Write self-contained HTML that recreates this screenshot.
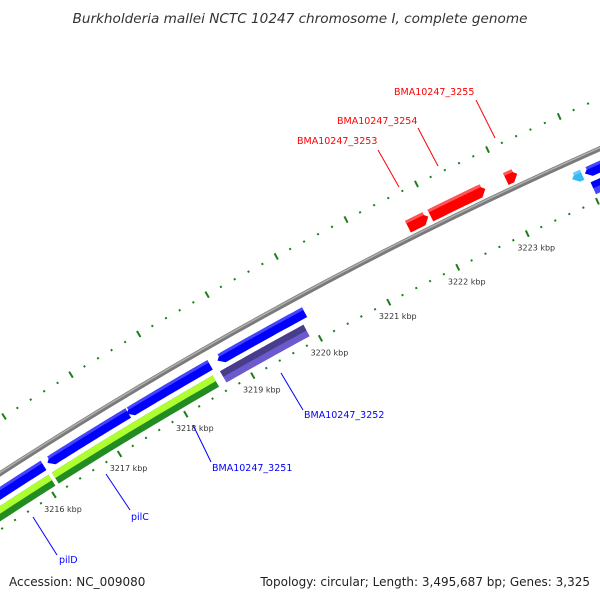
<!DOCTYPE html>
<html><head><meta charset="utf-8">
<style>
html,body{margin:0;padding:0;background:#fff;}
svg{display:block;font-family:"DejaVu Sans","Liberation Sans",sans-serif;}
</style></head>
<body>
<svg id="chart" width="600" height="600" viewBox="0 0 600 600">
<rect width="600" height="600" fill="#fff"/>
<g id="ticks"></g>
<g id="backbone"></g>
<g id="features"></g>
<g id="labels">
  <line x1="378" y1="150" x2="399" y2="187" stroke="#ff0000" stroke-width="1"/>
  <text x="297" y="144" font-size="9.5" fill="#ff0000">BMA10247_3253</text>
  <line x1="418" y1="128" x2="438" y2="166" stroke="#ff0000" stroke-width="1"/>
  <text x="337" y="124" font-size="9.5" fill="#ff0000">BMA10247_3254</text>
  <line x1="476" y1="100" x2="495" y2="138" stroke="#ff0000" stroke-width="1"/>
  <text x="394" y="95" font-size="9.5" fill="#ff0000">BMA10247_3255</text>
  <line x1="281" y1="373" x2="303" y2="410" stroke="#0000ff" stroke-width="1"/>
  <text x="304" y="418" font-size="9.5" fill="#0000ff">BMA10247_3252</text>
  <line x1="193" y1="425" x2="211" y2="462" stroke="#0000ff" stroke-width="1"/>
  <text x="212" y="471" font-size="9.5" fill="#0000ff">BMA10247_3251</text>
  <line x1="106" y1="474" x2="130" y2="510" stroke="#0000ff" stroke-width="1"/>
  <text x="131" y="520" font-size="9.5" fill="#0000ff">pilC</text>
  <line x1="33" y1="517" x2="57" y2="555" stroke="#0000ff" stroke-width="1"/>
  <text x="59" y="563" font-size="9.5" fill="#0000ff">pilD</text>
</g>
<text x="300" y="23" text-anchor="middle" font-size="13.6" font-style="italic" fill="#333">Burkholderia mallei NCTC 10247 chromosome I, complete genome</text>
<text x="9" y="586" font-size="12" fill="#222">Accession: NC_009080</text>
<text x="590" y="586" text-anchor="end" font-size="12" fill="#222">Topology: circular; Length: 3,495,687 bp; Genes: 3,325</text>
</svg>
<script>
const tickStartKbp = 3214;
const tickEndKbp = 3225;
const tickLabelKbp = [3216, 3217, 3218, 3219, 3220, 3221, 3222, 3223];
const featureNames = ["blue-a","pilD","pilC","BMA10247_3251","lightblue-small","blue-right-1","mixed-band2","BMA10247_3251-band2","BMA10247_3252","blue-right-2","BMA10247_3253","BMA10247_3254","BMA10247_3255"];
const featureStarts = [3214.6, 3216.15, 3217.35, 3218.70, 3223.82, 3224.00, 3214.6, 3216.13, 3218.66, 3224.02, 3221.66, 3221.98, 3223.05];
const featureEnds   = [3216.09, 3217.37, 3218.59, 3219.98, 3223.96, 3225.20, 3216.08, 3218.55, 3219.89, 3225.20, 3221.95, 3222.76, 3223.21];
const featureRings  = [1, 1, 1, 1, 1, 1, 2, 2, 2, 2, 0, 0, 0];
const featureArrows = ["none","left","left","left","left","left","none","none","none","none","right","right","right"];
const featureColors = ["#0000ff","#0000ff","#0000ff","#0000ff","#33bbee","#0000ff","#adff2f","#adff2f","#483d8b","#0000ff","#ff0000","#ff0000","#ff0000"];
const featureColors2= ["#4444ff","#4444ff","#4444ff","#4444ff","#66ccff","#4444ff","#228b22","#228b22","#6a5acd","#4444ff","#ff5555","#ff5555","#ff5555"];

const CX = 2366, CY = 4124, A0 = 237.5, K0 = 3216, DPK = 1.029;
const R_BACK = 4350, R_IN = 4303, R_OUT = 4396;
const RINGS = [[4355, 4368], [4328, 4339], [4310, 4323]];
const NS = "http://www.w3.org/2000/svg";
function pt(r, k) {
  const a = (A0 + (k - K0) * DPK) * Math.PI / 180;
  return [CX + r * Math.cos(a), CY + r * Math.sin(a)];
}
function arcPts(r, k1, k2) {
  const out = []; const n = 24;
  for (let i = 0; i <= n; i++) out.push(pt(r, k1 + (k2 - k1) * i / n));
  return out;
}
function poly(pts) { return pts.map(p => p[0].toFixed(2) + "," + p[1].toFixed(2)).join(" "); }

const bb = document.getElementById("backbone");
const bpts = arcPts(R_BACK, tickStartKbp, tickEndKbp);
const b1 = document.createElementNS(NS, "path");


b1.setAttribute("d", "M" + bpts.map(p => p[0].toFixed(2) + " " + p[1].toFixed(2)).join(" L"));
b1.setAttribute("stroke", "#7a7a7a"); b1.setAttribute("stroke-width", "5"); b1.setAttribute("fill", "none");
bb.appendChild(b1);
const hpts = arcPts(R_BACK + 1, tickStartKbp, tickEndKbp);
const b2 = document.createElementNS(NS, "path");


b2.setAttribute("d", "M" + hpts.map(p => p[0].toFixed(2) + " " + p[1].toFixed(2)).join(" L"));
b2.setAttribute("stroke", "#b0b0b0"); b2.setAttribute("stroke-width", "1.5"); b2.setAttribute("fill", "none");
bb.appendChild(b2);

const tg = document.getElementById("ticks");
for (let i = 0; i <= Math.round((tickEndKbp - tickStartKbp) * 5); i++) {
  const k = tickStartKbp + i * 0.2;
  const major = (i % 5 === 0);
  const half = major ? 3.5 : 1;
  [R_IN, R_OUT].forEach(r => {
    const p1 = pt(r - half, k), p2 = pt(r + half, k);
    const l = document.createElementNS(NS, "line");
    
    
    l.setAttribute("x1", p1[0]); l.setAttribute("y1", p1[1]);
    l.setAttribute("x2", p2[0]); l.setAttribute("y2", p2[1]);
    l.setAttribute("stroke", "#1e7d1e"); l.setAttribute("stroke-width", "2");
    tg.appendChild(l);
  });
}
tickLabelKbp.forEach(k => {
  const p = pt(R_IN, k);
  const t = document.createElementNS(NS, "text");
  
  
  t.setAttribute("x", p[0] + 9); t.setAttribute("y", p[1] + 17);
  t.setAttribute("text-anchor", "middle"); t.setAttribute("font-size", "8"); t.setAttribute("fill", "#333");
  t.textContent = k + " kbp";
  tg.appendChild(t);
});

const fg = document.getElementById("features");
function featShape(r1, r2, s, e, arrow) {
  const ah = Math.min(0.08, (e - s) * 0.6);
  const rm = (r1 + r2) / 2;
  let pts = [];
  if (arrow === "left") {
    pts = pts.concat(arcPts(r2, s + ah, e));
    pts = pts.concat(arcPts(r1, e, s + ah));
    pts.push(pt(rm, s));
  } else if (arrow === "right") {
    pts = pts.concat(arcPts(r2, s, e - ah));
    pts.push(pt(rm, e));
    pts = pts.concat(arcPts(r1, e - ah, s));
  } else {
    pts = pts.concat(arcPts(r2, s, e));
    pts = pts.concat(arcPts(r1, e, s));
  }
  return pts;
}
for (let i = 0; i < featureStarts.length; i++) {
  const [r1, r2] = RINGS[featureRings[i]];
  const s = featureStarts[i], e = featureEnds[i], ar = featureArrows[i];
  const p = document.createElementNS(NS, "polygon");
  
  
  p.setAttribute("points", poly(featShape(r1, r2, s, e, ar)));
  p.setAttribute("fill", featureRings[i] === 2 ? featureColors2[i] : featureColors[i]);
  fg.appendChild(p);
  const p2 = document.createElementNS(NS, "polygon");
  
  
  if (featureRings[i] === 2) {
    p2.setAttribute("points", poly(featShape((r1 + r2) / 2, r2, s, e, ar)));
    p2.setAttribute("fill", featureColors[i]);
  } else {
    const ah = Math.min(0.08, (e - s) * 0.6);
    const ss = ar === "left" ? s + ah * 0.5 : s, ee = ar === "right" ? e - ah * 0.5 : e;
    p2.setAttribute("points", poly(arcPts(r2, ss, ee).concat(arcPts(r2 - 3, ee, ss))));
    p2.setAttribute("fill", featureColors2[i]);
  }
  fg.appendChild(p2);
}
</script>
</body></html>
